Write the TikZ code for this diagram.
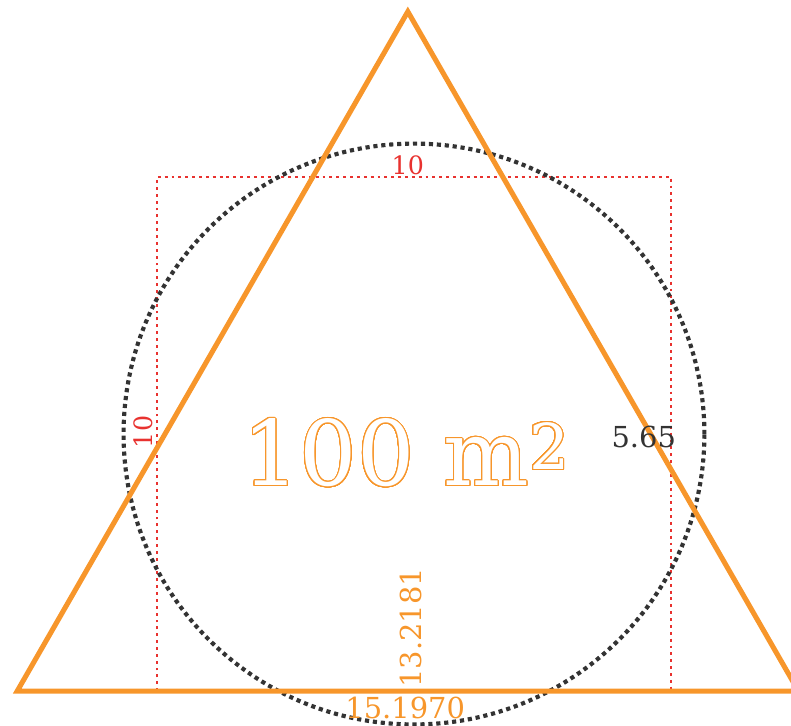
\documentclass[tikz,border=0pt]{standalone}
\usepackage{fontspec}
\setmainfont{DejaVu Serif}
\usepackage{contour}
\usetikzlibrary{positioning}
\definecolor{Tri}{HTML}{F7962B}
\definecolor{Sq}{HTML}{E8322F}
\definecolor{Ring}{HTML}{333333}
\contourlength{0.6pt}
\contournumber{40}

\begin{document}
\begin{tikzpicture}
    \tikzset{
      triline/.style={draw=Tri,line width=2.8pt,line join=miter},
      sqline/.style={draw=Sq,line width=1.6pt,dash pattern=on 1.6pt off 2.2pt},
      ringline/.style={draw=Ring,line width=2.3pt,dash pattern=on 2.3pt off 2.1pt},
      lbl/.style={inner sep=1pt,font=\fontsize{16}{16}\selectfont}
    }
    \useasboundingbox (-3.054,-0.661) rectangle (12.335,13.444);
    \coordinate (ctr) at (5,5);
    \coordinate (apex) at (4.88,13.2181);
    \coordinate (bl) at (-2.7185,0);
    \coordinate (br) at (12.4785,0);
    \draw[sqline] (0,0) rectangle (10,10);
    \draw[ringline] (ctr) circle[radius=5.65];
    \draw[triline] (bl) -- (apex) -- (br) -- cycle;
    \node[lbl,text=Sq,font=\fontsize{14}{14}\selectfont,anchor=south] (top) at (4.88,10.0) {10};
    \node[lbl,text=Sq,font=\fontsize{14}{14}\selectfont,rotate=90] (left) at (-0.27,5.04) {10};
    \node[lbl,text=Ring] (rad) at (9.47,4.94) {5.65};
    \node[lbl,text=Tri,rotate=90] (hgt) at (4.94,1.23) {13.2181};
    \node[lbl,text=Tri] (base) at (4.83,-0.33) {15.1970};
    \node[font=\fontsize{50}{50}\selectfont] (area) at (4.85,4.62)
      {\contour{Tri}{\textcolor{white}{100 m\textsuperscript{2}}}};
\end{tikzpicture}
\end{document}
